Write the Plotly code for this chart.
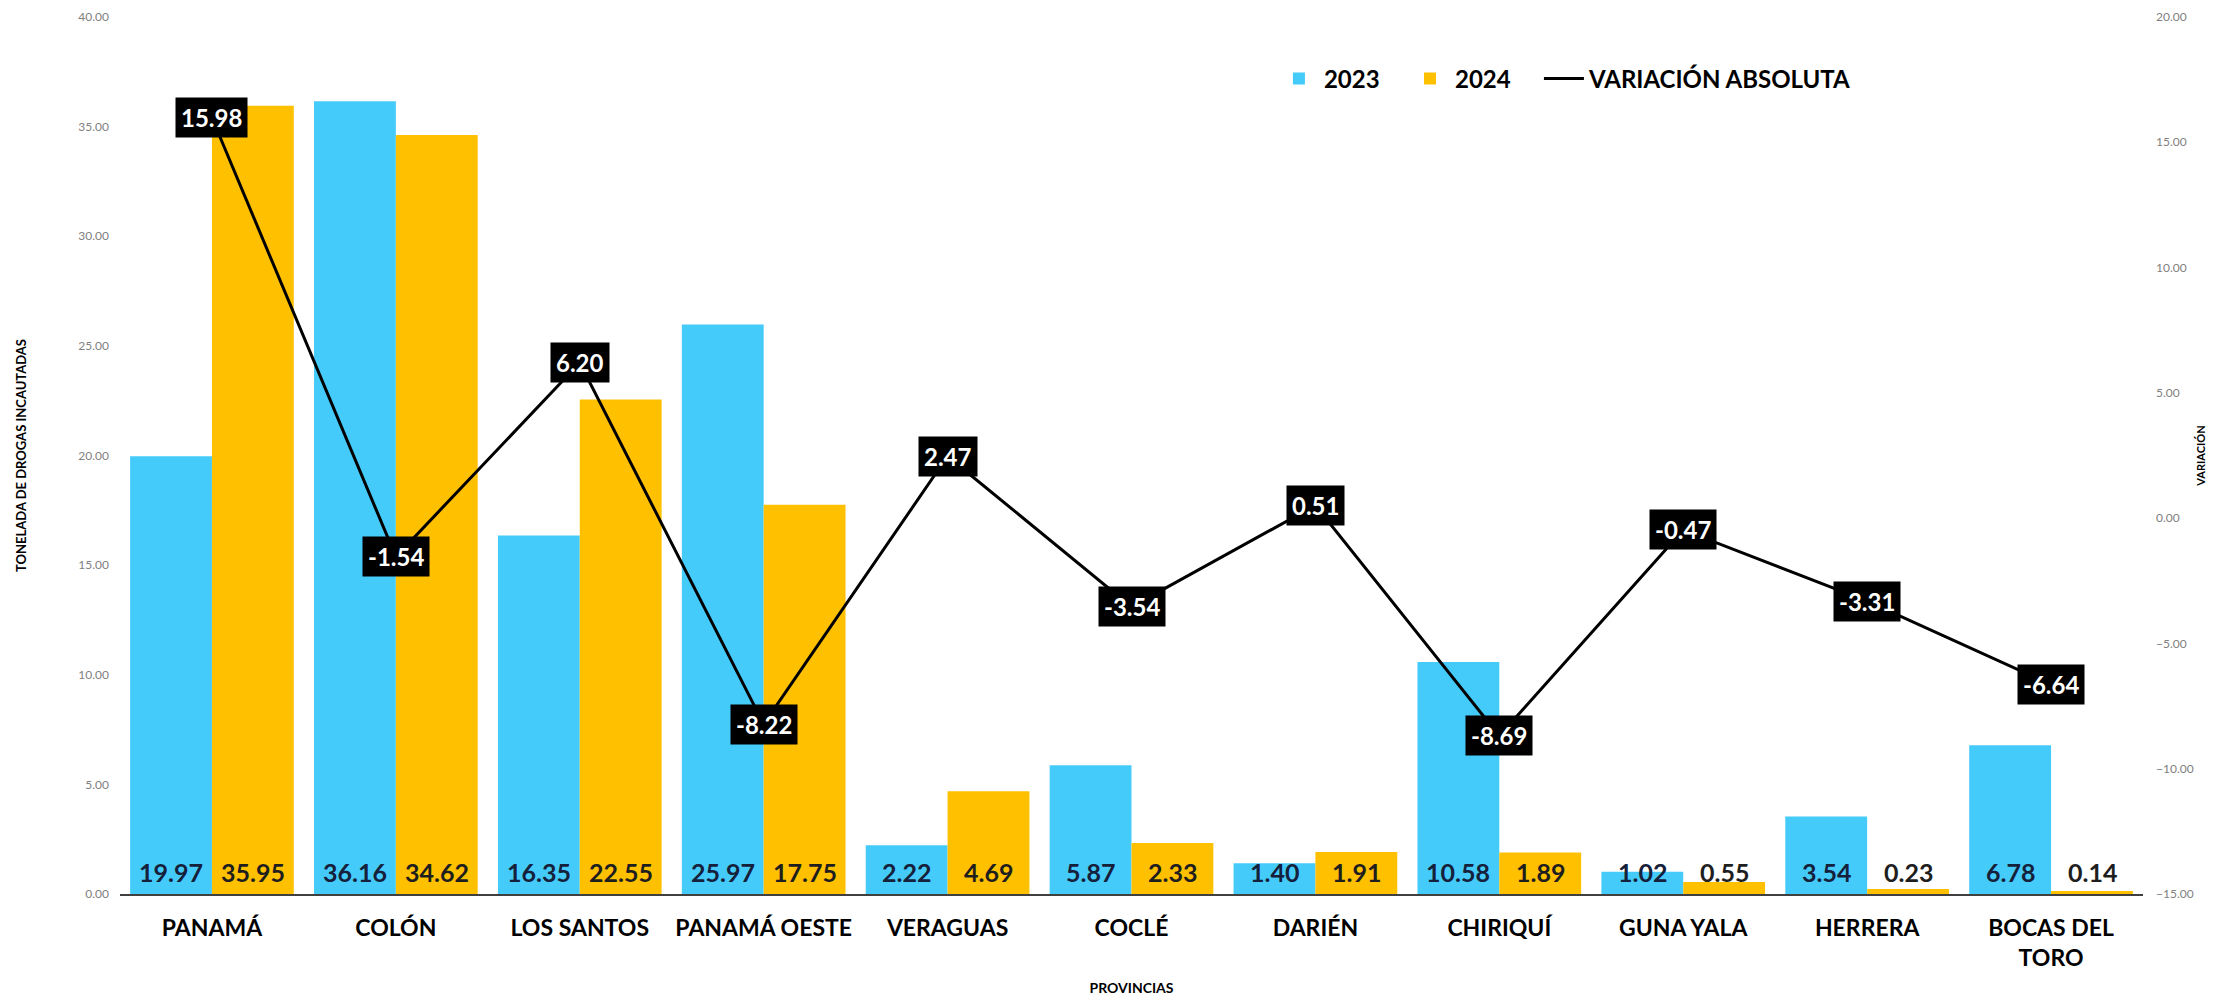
import plotly.graph_objects as go

provincias = ["PANAMÁ", "COLÓN", "LOS SANTOS", "PANAMÁ OESTE", "VERAGUAS", "COCLÉ",
              "DARIÉN", "CHIRIQUÍ", "GUNA YALA", "HERRERA", "BOCAS DEL TORO"]
tick_labels = ["PANAMÁ", "COLÓN", "LOS SANTOS", "PANAMÁ OESTE", "VERAGUAS", "COCLÉ",
               "DARIÉN", "CHIRIQUÍ", "GUNA YALA", "HERRERA", "BOCAS DEL<br>TORO"]
val_2023 = [19.97, 36.16, 16.35, 25.97, 2.22, 5.87, 1.40, 10.58, 1.02, 3.54, 6.78]
val_2024 = [35.95, 34.62, 22.55, 17.75, 4.69, 2.33, 1.91, 1.89, 0.55, 0.23, 0.14]
variacion = [15.98, -1.54, 6.20, -8.22, 2.47, -3.54, 0.51, -8.69, -0.47, -3.31, -6.64]

BLUE = "#45CBFA"
GOLD = "#FFC000"
FONT = "Lato"

fig = go.Figure()
fig.add_trace(go.Bar(name="2023", x=provincias, y=val_2023, marker_color=BLUE,
                     marker_line_width=0, legend="legend"))
fig.add_trace(go.Bar(name="2024", x=provincias, y=val_2024, marker_color=GOLD,
                     marker_line_width=0, legend="legend2"))
fig.add_trace(go.Scatter(name="VARIACIÓN ABSOLUTA", x=provincias, y=variacion,
                         yaxis="y2", mode="lines", legend="legend3",
                         line=dict(color="#000000", width=3)))

annotations = []
# bar values sitting at the base of each bar
for cat, a, b in zip(provincias, val_2023, val_2024):
    annotations.append(dict(x=cat, y=0, xref="x", yref="y", text=f"{a:.2f}",
                            showarrow=False, xshift=-41, yshift=5, yanchor="bottom",
                            font=dict(family=FONT, size=25, color="#15203A", weight="bold")))
    annotations.append(dict(x=cat, y=0, xref="x", yref="y", text=f"{b:.2f}",
                            showarrow=False, xshift=41, yshift=5, yanchor="bottom",
                            font=dict(family=FONT, size=25, color="#1E1E1E", weight="bold")))
# variation labels in black boxes
for cat, v in zip(provincias, variacion):
    annotations.append(dict(x=cat, y=v, xref="x", yref="y2", text=f"{v:.2f}",
                            showarrow=False, bgcolor="#000000", borderpad=5,
                            font=dict(family=FONT, size=24, color="#FFFFFF", weight="bold")))

legend_style = dict(orientation="h", y=0.955, xanchor="left", yanchor="top",
                    bgcolor="rgba(0,0,0,0)", itemwidth=40,
                    font=dict(family=FONT, size=24, weight="bold"))

fig.update_layout(
    width=2208, height=993,
    plot_bgcolor="#FFFFFF", paper_bgcolor="#FFFFFF",
    font=dict(family=FONT, color="#000000"),
    barmode="group", bargap=0.11, bargroupgap=0,
    margin=dict(l=112, r=73, t=9, b=107),
    showlegend=True,
    legend=dict(x=0.5704, **legend_style),
    legend2=dict(x=0.6352, **legend_style),
    legend3=dict(x=0.7014, **legend_style),
    xaxis=dict(tickvals=provincias, ticktext=tick_labels, showgrid=False,
               showline=True, linecolor="#404040", linewidth=2, ticks="",
               tickfont=dict(family=FONT, size=23, color="#000000", weight="bold"),
               ticklabelstandoff=12, automargin=False,
               title=dict(text="PROVINCIAS", standoff=14,
                          font=dict(family=FONT, size=14, weight="bold"))),
    yaxis=dict(range=[0, 40], dtick=5, tickformat=".2f", showgrid=False,
               zeroline=False, ticks="", automargin=False,
               ticklabeloverflow="allow",
               tickfont=dict(family=FONT, size=12, color="#7F7F7F"),
               ticklabelstandoff=10,
               title=dict(text="TONELADA DE DROGAS INCAUTADAS", standoff=48,
                          font=dict(family=FONT, size=13, weight="bold"))),
    yaxis2=dict(range=[-15, 20], dtick=5, tickformat=".2f", overlaying="y",
                side="right", showgrid=False, zeroline=False, ticks="",
                automargin=False, ticklabeloverflow="allow",
                tickfont=dict(family=FONT, size=12, color="#7F7F7F"),
                ticklabelstandoff=12,
                title=dict(text="VARIACIÓN", standoff=4,
                           font=dict(family=FONT, size=11, weight="bold"))),
    annotations=annotations,
)

fig.write_html("out.html")
